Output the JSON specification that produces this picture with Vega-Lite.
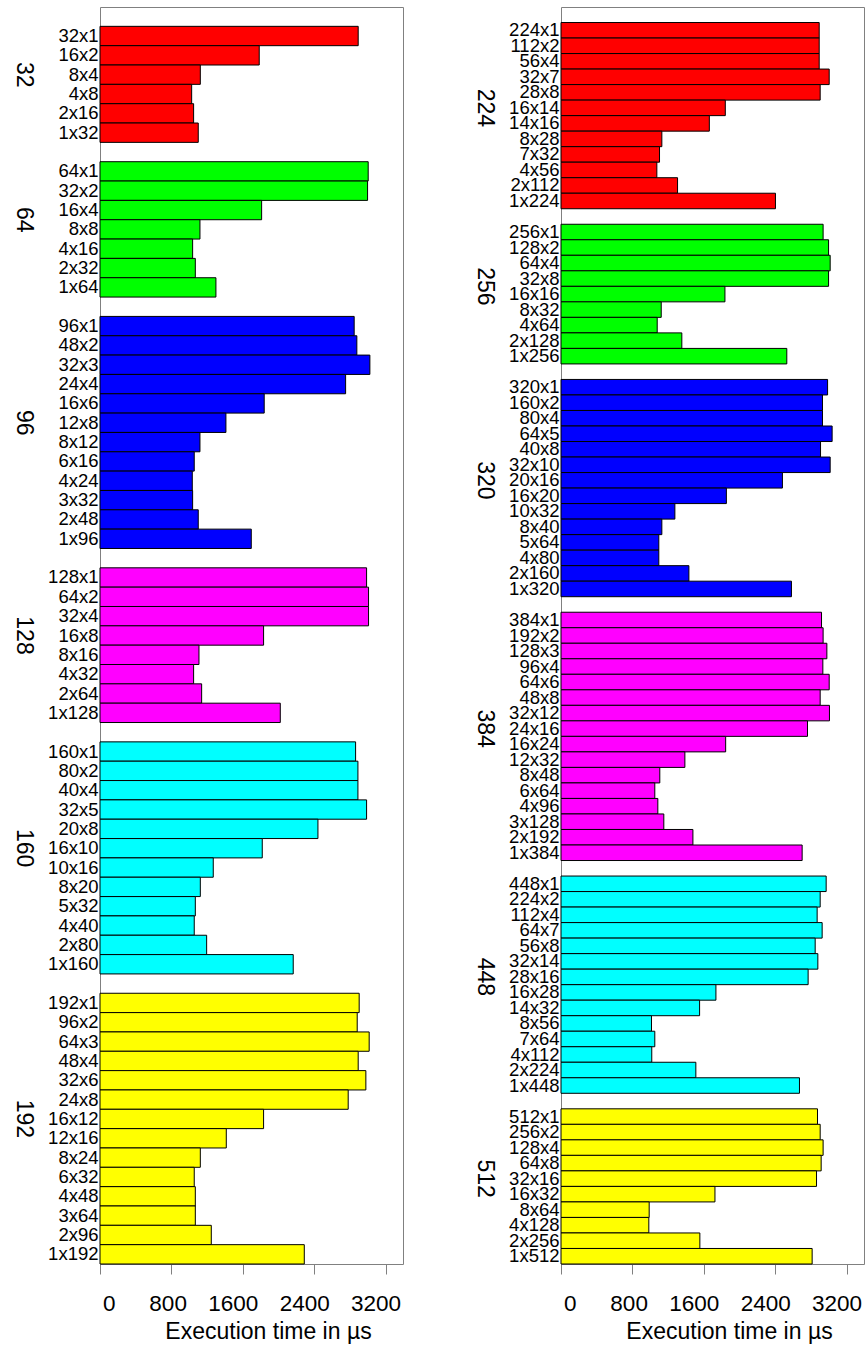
{
  "$schema": "https://vega.github.io/schema/vega-lite/v6.json",
  "padding": {"left": 10, "top": 4, "right": 0, "bottom": 0},
  "spacing": 67,
  "config": {
    "font": "Liberation Sans",
    "view": {"stroke": "#808080", "strokeWidth": 1},
    "axis": {"labelColor": "black", "titleColor": "black", "grid": false}
  },
  "datasets": {
    "left": [
      {"group": 32, "config": "32x1", "time": 2893},
      {"group": 32, "config": "16x2", "time": 1784},
      {"group": 32, "config": "8x4", "time": 1124},
      {"group": 32, "config": "4x8", "time": 1027},
      {"group": 32, "config": "2x16", "time": 1049},
      {"group": 32, "config": "1x32", "time": 1101},
      {"group": 64, "config": "64x1", "time": 3005},
      {"group": 64, "config": "32x2", "time": 2998},
      {"group": 64, "config": "16x4", "time": 1811},
      {"group": 64, "config": "8x8", "time": 1120},
      {"group": 64, "config": "4x16", "time": 1038},
      {"group": 64, "config": "2x32", "time": 1068},
      {"group": 64, "config": "1x64", "time": 1299},
      {"group": 96, "config": "96x1", "time": 2848},
      {"group": 96, "config": "48x2", "time": 2878},
      {"group": 96, "config": "32x3", "time": 3024},
      {"group": 96, "config": "24x4", "time": 2752},
      {"group": 96, "config": "16x6", "time": 1840},
      {"group": 96, "config": "12x8", "time": 1411},
      {"group": 96, "config": "8x12", "time": 1120},
      {"group": 96, "config": "6x16", "time": 1056},
      {"group": 96, "config": "4x24", "time": 1034},
      {"group": 96, "config": "3x32", "time": 1038},
      {"group": 96, "config": "2x48", "time": 1101},
      {"group": 96, "config": "1x96", "time": 1695},
      {"group": 128, "config": "128x1", "time": 2987},
      {"group": 128, "config": "64x2", "time": 3009},
      {"group": 128, "config": "32x4", "time": 3009},
      {"group": 128, "config": "16x8", "time": 1833},
      {"group": 128, "config": "8x16", "time": 1109},
      {"group": 128, "config": "4x32", "time": 1049},
      {"group": 128, "config": "2x64", "time": 1139},
      {"group": 128, "config": "1x128", "time": 2020},
      {"group": 160, "config": "160x1", "time": 2864},
      {"group": 160, "config": "80x2", "time": 2890},
      {"group": 160, "config": "40x4", "time": 2890},
      {"group": 160, "config": "32x5", "time": 2987},
      {"group": 160, "config": "20x8", "time": 2442},
      {"group": 160, "config": "16x10", "time": 1818},
      {"group": 160, "config": "10x16", "time": 1269},
      {"group": 160, "config": "8x20", "time": 1124},
      {"group": 160, "config": "5x32", "time": 1068},
      {"group": 160, "config": "4x40", "time": 1056},
      {"group": 160, "config": "2x80", "time": 1195},
      {"group": 160, "config": "1x160", "time": 2165},
      {"group": 192, "config": "192x1", "time": 2904},
      {"group": 192, "config": "96x2", "time": 2882},
      {"group": 192, "config": "64x3", "time": 3016},
      {"group": 192, "config": "48x4", "time": 2893},
      {"group": 192, "config": "32x6", "time": 2979},
      {"group": 192, "config": "24x8", "time": 2781},
      {"group": 192, "config": "16x12", "time": 1833},
      {"group": 192, "config": "12x16", "time": 1415},
      {"group": 192, "config": "8x24", "time": 1124},
      {"group": 192, "config": "6x32", "time": 1056},
      {"group": 192, "config": "4x48", "time": 1068},
      {"group": 192, "config": "3x64", "time": 1068},
      {"group": 192, "config": "2x96", "time": 1247},
      {"group": 192, "config": "1x192", "time": 2289}
    ],
    "right": [
      {"group": 224, "config": "224x1", "time": 2893},
      {"group": 224, "config": "112x2", "time": 2893},
      {"group": 224, "config": "56x4", "time": 2893},
      {"group": 224, "config": "32x7", "time": 3005},
      {"group": 224, "config": "28x8", "time": 2904},
      {"group": 224, "config": "16x14", "time": 1841},
      {"group": 224, "config": "14x16", "time": 1662},
      {"group": 224, "config": "8x28", "time": 1130},
      {"group": 224, "config": "7x32", "time": 1104},
      {"group": 224, "config": "4x56", "time": 1074},
      {"group": 224, "config": "2x112", "time": 1306},
      {"group": 224, "config": "1x224", "time": 2403},
      {"group": 256, "config": "256x1", "time": 2937},
      {"group": 256, "config": "128x2", "time": 2998},
      {"group": 256, "config": "64x4", "time": 3016},
      {"group": 256, "config": "32x8", "time": 2998},
      {"group": 256, "config": "16x16", "time": 1837},
      {"group": 256, "config": "8x32", "time": 1123},
      {"group": 256, "config": "4x64", "time": 1078},
      {"group": 256, "config": "2x128", "time": 1354},
      {"group": 256, "config": "1x256", "time": 2530},
      {"group": 320, "config": "320x1", "time": 2987},
      {"group": 320, "config": "160x2", "time": 2930},
      {"group": 320, "config": "80x4", "time": 2930},
      {"group": 320, "config": "64x5", "time": 3038},
      {"group": 320, "config": "40x8", "time": 2908},
      {"group": 320, "config": "32x10", "time": 3016},
      {"group": 320, "config": "20x16", "time": 2481},
      {"group": 320, "config": "16x20", "time": 1853},
      {"group": 320, "config": "10x32", "time": 1276},
      {"group": 320, "config": "8x40", "time": 1130},
      {"group": 320, "config": "5x64", "time": 1096},
      {"group": 320, "config": "4x80", "time": 1096},
      {"group": 320, "config": "2x160", "time": 1433},
      {"group": 320, "config": "1x320", "time": 2582},
      {"group": 384, "config": "384x1", "time": 2919},
      {"group": 384, "config": "192x2", "time": 2937},
      {"group": 384, "config": "128x3", "time": 2979},
      {"group": 384, "config": "96x4", "time": 2934},
      {"group": 384, "config": "64x6", "time": 3005},
      {"group": 384, "config": "48x8", "time": 2904},
      {"group": 384, "config": "32x12", "time": 3008},
      {"group": 384, "config": "24x16", "time": 2762},
      {"group": 384, "config": "16x24", "time": 1845},
      {"group": 384, "config": "12x32", "time": 1388},
      {"group": 384, "config": "8x48", "time": 1107},
      {"group": 384, "config": "6x64", "time": 1051},
      {"group": 384, "config": "4x96", "time": 1085},
      {"group": 384, "config": "3x128", "time": 1152},
      {"group": 384, "config": "2x192", "time": 1478},
      {"group": 384, "config": "1x384", "time": 2702},
      {"group": 448, "config": "448x1", "time": 2971},
      {"group": 448, "config": "224x2", "time": 2904},
      {"group": 448, "config": "112x4", "time": 2870},
      {"group": 448, "config": "64x7", "time": 2926},
      {"group": 448, "config": "56x8", "time": 2848},
      {"group": 448, "config": "32x14", "time": 2878},
      {"group": 448, "config": "28x16", "time": 2769},
      {"group": 448, "config": "16x28", "time": 1736},
      {"group": 448, "config": "14x32", "time": 1553},
      {"group": 448, "config": "8x56", "time": 1014},
      {"group": 448, "config": "7x64", "time": 1051},
      {"group": 448, "config": "4x112", "time": 1017},
      {"group": 448, "config": "2x224", "time": 1511},
      {"group": 448, "config": "1x448", "time": 2672},
      {"group": 512, "config": "512x1", "time": 2874},
      {"group": 512, "config": "256x2", "time": 2904},
      {"group": 512, "config": "128x4", "time": 2937},
      {"group": 512, "config": "64x8", "time": 2915},
      {"group": 512, "config": "32x16", "time": 2863},
      {"group": 512, "config": "16x32", "time": 1725},
      {"group": 512, "config": "8x64", "time": 988},
      {"group": 512, "config": "4x128", "time": 984},
      {"group": 512, "config": "2x256", "time": 1556},
      {"group": 512, "config": "1x512", "time": 2814}
    ]
  },
  "hconcat": [
    {
      "data": {"name": "left"},
      "width": 303,
      "height": 1257,
      "resolve": {"axis": {"y": "independent"}},
      "encoding": {
        "x": {
          "field": "time", "type": "quantitative",
          "scale": {"domain": [0, 3395], "nice": false, "zero": true},
          "axis": {
            "values": [0, 800, 1600, 2400, 3200], "format": "d", "title": "Execution time in µs",
            "domain": false, "ticks": true, "tickSize": 10, "tickColor": "#808080",
            "labelFontSize": 22.5, "labelAlign": "right", "labelOffset": 15, "labelPadding": 18, "labelFlush": false,
            "titleFontSize": 23, "titleFontWeight": "normal", "titlePadding": 6, "titleX": 168, "titleAlign": "center"
          }
        }
      },
      "layer": [
        {
          "mark": {"type": "bar", "stroke": "black", "strokeWidth": 1},
          "encoding": {
            "y": {
              "field": "config", "type": "nominal",
              "scale": {"paddingInner": 0, "paddingOuter": 0, "domain": ["_32", "32x1", "16x2", "8x4", "4x8", "2x16", "1x32", "_64", "64x1", "32x2", "16x4", "8x8", "4x16", "2x32", "1x64", "_96", "96x1", "48x2", "32x3", "24x4", "16x6", "12x8", "8x12", "6x16", "4x24", "3x32", "2x48", "1x96", "_128", "128x1", "64x2", "32x4", "16x8", "8x16", "4x32", "2x64", "1x128", "_160", "160x1", "80x2", "40x4", "32x5", "20x8", "16x10", "10x16", "8x20", "5x32", "4x40", "2x80", "1x160", "_192", "192x1", "96x2", "64x3", "48x4", "32x6", "24x8", "16x12", "12x16", "8x24", "6x32", "4x48", "3x64", "2x96", "1x192"]},
              "axis": {"orient": "left", "title": null, "ticks": false, "domain": false, "labelFontSize": 18.5, "labelPadding": 2, "labelAlign": "right", "labelBaseline": "middle", "labelExpr": "indexof(datum.label, '_') == 0 ? '' : datum.label"}
            },
            "color": {
              "field": "group", "type": "nominal",
              "scale": {"domain": [32, 64, 96, 128, 160, 192, 224, 256, 320, 384, 448, 512], "range": ["#ff0000", "#00ff00", "#0000ff", "#ff00ff", "#00ffff", "#ffff00", "#ff0000", "#00ff00", "#0000ff", "#ff00ff", "#00ffff", "#ffff00"]},
              "legend": null
            }
          }
        },
        {
          "mark": {"type": "bar", "opacity": 0},
          "encoding": {
            "y": {
              "field": "config", "type": "nominal",
              "scale": {"paddingInner": 0, "paddingOuter": 0},
              "axis": {"orient": "left", "title": null, "ticks": false, "domain": false, "offset": 77, "labelPadding": 0, "labelFontSize": 23, "labelAngle": 90, "labelAlign": "center", "labelBaseline": "middle",
                "labelOffset": {"condition": {"test": "datum.value == '8x8'", "value": -9.67}, "value": 0},
                "labelExpr": "datum.value == '8x4' ? '32' : datum.value == '8x8' ? '64' : datum.value == '12x8' ? '96' : datum.value == '16x8' ? '128' : datum.value == '16x10' ? '160' : datum.value == '16x12' ? '192' : ''"}
            }
          }
        }
      ]
    },
    {
      "data": {"name": "right"},
      "width": 303,
      "height": 1257,
      "resolve": {"axis": {"y": "independent"}},
      "encoding": {
        "x": {
          "field": "time", "type": "quantitative",
          "scale": {"domain": [0, 3395], "nice": false, "zero": true},
          "axis": {
            "values": [0, 800, 1600, 2400, 3200], "format": "d", "title": "Execution time in µs",
            "domain": false, "ticks": true, "tickSize": 10, "tickColor": "#808080",
            "labelFontSize": 22.5, "labelAlign": "right", "labelOffset": 15, "labelPadding": 18, "labelFlush": false,
            "titleFontSize": 23, "titleFontWeight": "normal", "titlePadding": 6, "titleX": 168, "titleAlign": "center"
          }
        }
      },
      "layer": [
        {
          "mark": {"type": "bar", "stroke": "black", "strokeWidth": 1},
          "encoding": {
            "y": {
              "field": "config", "type": "nominal",
              "scale": {"paddingInner": 0, "paddingOuter": 0, "domain": ["_224", "224x1", "112x2", "56x4", "32x7", "28x8", "16x14", "14x16", "8x28", "7x32", "4x56", "2x112", "1x224", "_256", "256x1", "128x2", "64x4", "32x8", "16x16", "8x32", "4x64", "2x128", "1x256", "_320", "320x1", "160x2", "80x4", "64x5", "40x8", "32x10", "20x16", "16x20", "10x32", "8x40", "5x64", "4x80", "2x160", "1x320", "_384", "384x1", "192x2", "128x3", "96x4", "64x6", "48x8", "32x12", "24x16", "16x24", "12x32", "8x48", "6x64", "4x96", "3x128", "2x192", "1x384", "_448", "448x1", "224x2", "112x4", "64x7", "56x8", "32x14", "28x16", "16x28", "14x32", "8x56", "7x64", "4x112", "2x224", "1x448", "_512", "512x1", "256x2", "128x4", "64x8", "32x16", "16x32", "8x64", "4x128", "2x256", "1x512"]},
              "axis": {"orient": "left", "title": null, "ticks": false, "domain": false, "labelFontSize": 18.5, "labelPadding": 2, "labelAlign": "right", "labelBaseline": "middle", "labelExpr": "indexof(datum.label, '_') == 0 ? '' : datum.label"}
            },
            "color": {
              "field": "group", "type": "nominal",
              "scale": {"domain": [32, 64, 96, 128, 160, 192, 224, 256, 320, 384, 448, 512], "range": ["#ff0000", "#00ff00", "#0000ff", "#ff00ff", "#00ffff", "#ffff00", "#ff0000", "#00ff00", "#0000ff", "#ff00ff", "#00ffff", "#ffff00"]},
              "legend": null
            }
          }
        },
        {
          "mark": {"type": "bar", "opacity": 0},
          "encoding": {
            "y": {
              "field": "config", "type": "nominal",
              "scale": {"paddingInner": 0, "paddingOuter": 0},
              "axis": {"orient": "left", "title": null, "ticks": false, "domain": false, "offset": 77, "labelPadding": 0, "labelFontSize": 23, "labelAngle": 90, "labelAlign": "center", "labelBaseline": "middle",
                "labelOffset": {"condition": {"test": "datum.value == '16x16'", "value": -7.76}, "value": 0},
                "labelExpr": "datum.value == '16x14' ? '224' : datum.value == '16x16' ? '256' : datum.value == '20x16' ? '320' : datum.value == '24x16' ? '384' : datum.value == '28x16' ? '448' : datum.value == '32x16' ? '512' : ''"}
            }
          }
        }
      ]
    }
  ]
}
